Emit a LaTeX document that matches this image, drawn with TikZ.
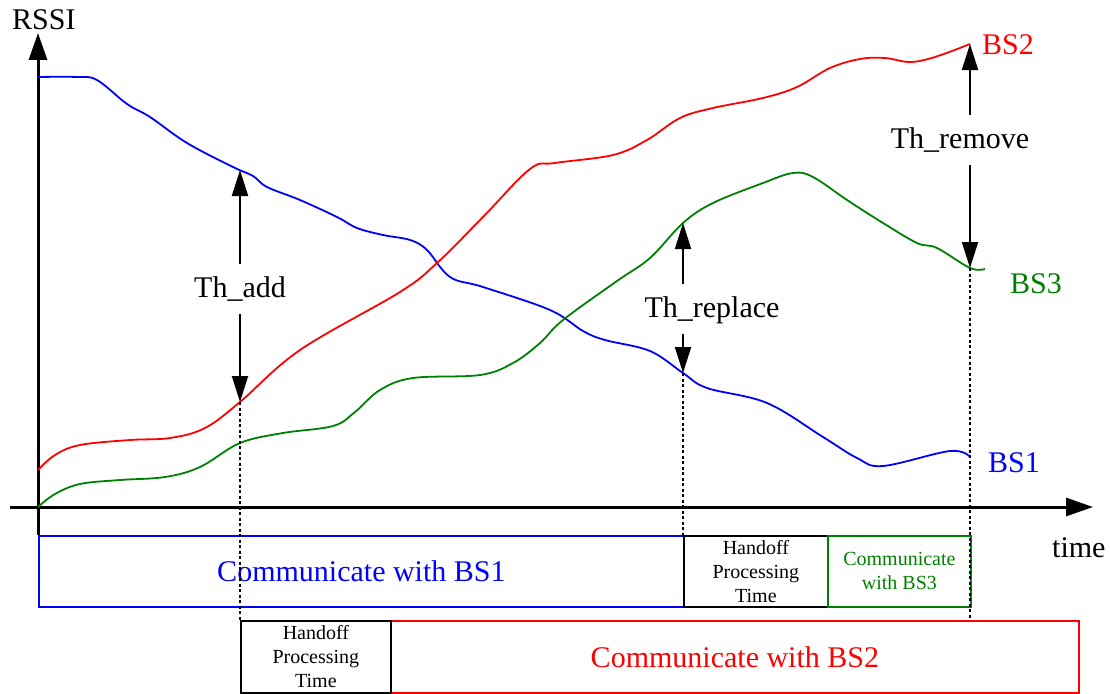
\documentclass[tikz,border=0pt]{standalone}
\usepackage{fontspec}
\setmainfont{Liberation Serif}
\usetikzlibrary{arrows.meta}
\definecolor{bsgreen}{RGB}{0,128,0}
\newcommand\lblfont{\fontsize{30}{34}\selectfont}
\newcommand\boxfont{\fontsize{20}{24}\selectfont}
\begin{document}
\begin{tikzpicture}[x=1pt,y=-1pt,
  axisline/.style={line width=3pt,-{Triangle[length=27pt,width=18pt]}},
  curve/.style={line width=1.8pt},
  tharrow/.style={line width=2pt,-{Triangle[length=26pt,width=16pt]}},
  guide/.style={line width=1.4pt,dash pattern=on 3pt off 2.5pt},
  thlabel/.style={anchor=base,font=\lblfont,text height=25pt,text depth=9pt,inner ysep=8pt,inner xsep=0pt},
  txt/.style={anchor=base west,font=\lblfont,inner sep=0pt},
  bbox/.style={draw,line width=1.8pt,anchor=north west,inner sep=0pt,align=center}]
\useasboundingbox (0,0) rectangle (1110,693);

% axes
\coordinate (xstart) at (10,507);
\coordinate (xend) at (1093,507);
\coordinate (ybot) at (38,535);
\coordinate (ytop) at (38,33);
\draw[axisline] (xstart) -- (xend);
\draw[axisline] (ybot) -- (ytop);
\node[txt] (rssi) at (12,30) {RSSI};
\node[txt] (time) at (1052,557) {time};

% points where the thresholds meet the curves
\coordinate (b1add) at (240,170);
\coordinate (r2add) at (240,402);
\coordinate (g3rep) at (683,223);
\coordinate (b1rep) at (683,373);
\coordinate (r2rem) at (970,44);
\coordinate (g3rem) at (970,268);

% BS1 signal
\draw[curve,blue] plot[smooth,tension=0.6] coordinates {(38,77) (77,77) (97,80) (127,104) (150,117) (187,143) (233,167) (253,176) (267,187) (300,200) (337,217) (357,228) (383,235) (410,240) (427,250) (450,277) (483,287) (550,310) (583,331) (605,340) (650,351) (683,373) (707,388) (767,403) (823,437) (857,458) (883,466) (950,451) (970,457)};
% BS2 signal
\draw[curve,red] plot[smooth,tension=0.6] coordinates {(38,470) (55,455) (80,445) (130,440) (170,438) (205,428) (240,402) (300,350) (400,292) (437,263) (483,217) (530,169) (555,163) (613,155) (647,140) (680,118) (713,108) (763,98) (797,87) (830,68) (860,59) (885,58) (910,62) (935,57) (970,44)};
% BS3 signal
\draw[curve,bsgreen] plot[smooth,tension=0.6] coordinates {(38,507) (55,494) (80,484) (120,480) (165,477) (200,467) (240,443) (283,433) (333,426) (355,412) (380,390) (413,378) (480,375) (513,363) (540,343) (563,320) (617,281) (650,258) (683,223) (713,203) (763,183) (793,173) (813,177) (847,200) (883,223) (917,243) (937,248) (970,268) (985,269)};

\node[txt,red] (bs2) at (982,55) {BS2};
\node[txt,bsgreen] (bs3) at (1010,293) {BS3};
\node[txt,blue] (bs1) at (988,472) {BS1};

% thresholds
\node[thlabel] (thadd) at (240,297) {Th\_add};
\draw[tharrow] (thadd.north -| b1add) -- (b1add);
\draw[tharrow] (thadd.south -| r2add) -- (r2add);
\node[thlabel] (threp) at (712,317) {Th\_replace};
\draw[tharrow] (threp.north -| g3rep) -- (g3rep);
\draw[tharrow] (threp.south -| b1rep) -- (b1rep);
\node[thlabel] (threm) at (960,148) {Th\_remove};
\draw[tharrow] (threm.north -| r2rem) -- (r2rem);
\draw[tharrow] (threm.south -| g3rem) -- (g3rem);

% time line boxes
\node[bbox,blue,minimum width=645pt,minimum height=71pt,font=\lblfont] (bs1box) at (38,535) {Communicate with BS1};
\node[bbox,black,minimum width=144pt,minimum height=71pt,font=\boxfont] (ho1) at (683,535) {Handoff\\Processing\\Time};
\node[bbox,bsgreen,minimum width=143pt,minimum height=71pt,font=\boxfont] (bs3box) at (827,535) {Communicate\\with BS3};
\node[bbox,red,minimum width=688pt,minimum height=72pt,font=\lblfont] (bs2box) at (390,620) {Communicate with BS2};
\node[bbox,black,minimum width=150pt,minimum height=72pt,font=\boxfont] (ho2) at (240,620) {Handoff\\Processing\\Time};

% guide lines
\draw[guide] (r2add) -- (ho2.north west);
\draw[guide] (b1rep) -- (ho1.north west);
\draw[guide] (g3rem) -- (g3rem |- bs2box.north);
\end{tikzpicture}
\end{document}
